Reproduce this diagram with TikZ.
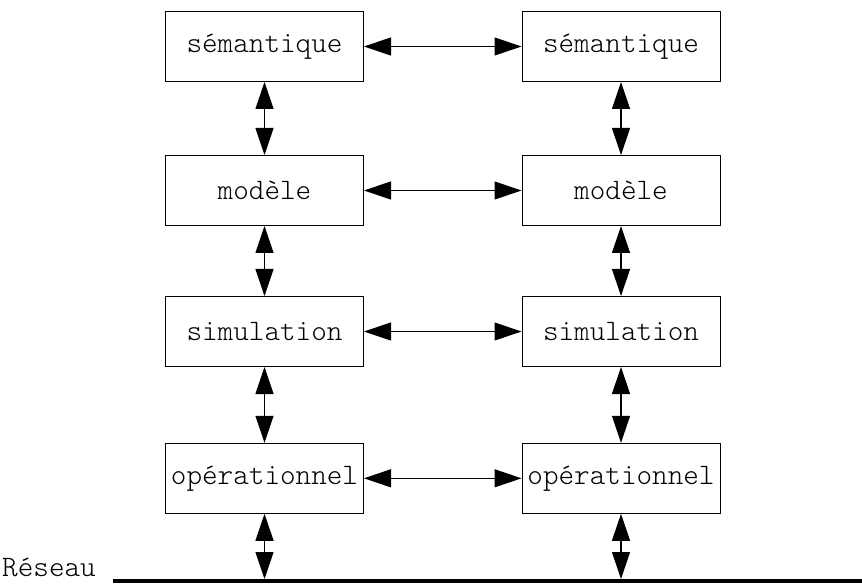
\documentclass[tikz,border=0pt]{standalone}
\usetikzlibrary{arrows.meta}
\tikzset{
  lbl/.style={font=\ttfamily\fontseries{l}\fontsize{29.7}{34}\selectfont},
  layer/.style={lbl, draw=black, line width=1pt, minimum width=198pt, minimum height=70pt,
    inner sep=0pt},
  link/.style={line width=1.2pt, {Triangle[length=27pt,width=18pt]}-{Triangle[length=27pt,width=18pt]}}
}
\begin{document}
\begin{tikzpicture}[x=1pt,y=-1pt]
\useasboundingbox (0,0) rectangle (862,585);
% left stack
\node[layer] (sl) at (264.5,46.5)  {sémantique};
\node[layer] (ml) at (264.5,190.5) {modèle};
\node[layer] (il) at (264.5,331.5) {simulation};
\node[layer] (ol) at (264.5,478.3) {opérationnel};
% right stack
\node[layer] (sr) at (621,46.5)  {sémantique};
\node[layer] (mr) at (621,190.5) {modèle};
\node[layer] (ir) at (621,331.5) {simulation};
\node[layer] (or) at (621,478.3) {opérationnel};
% network bus
\node[lbl, inner sep=0pt, anchor=base east] (res) at (96,576) {Réseau};
\coordinate (busl) at (113,581);
\coordinate (busr) at (862,581);
\draw[line width=4pt] (busl) -- (busr);
\coordinate (tl) at (264.5,579);
\coordinate (tr) at (621,579);
% vertical links
\draw[link] (sl) -- (ml);
\draw[link] (ml) -- (il);
\draw[link] (il) -- (ol);
\draw[link] (ol) -- (tl);
\draw[link] (sr) -- (mr);
\draw[link] (mr) -- (ir);
\draw[link] (ir) -- (or);
\draw[link] (or) -- (tr);
% horizontal links
\draw[link] (sl) -- (sr);
\draw[link] (ml) -- (mr);
\draw[link] (il) -- (ir);
\draw[link] (ol) -- (or);
\end{tikzpicture}
\end{document}
